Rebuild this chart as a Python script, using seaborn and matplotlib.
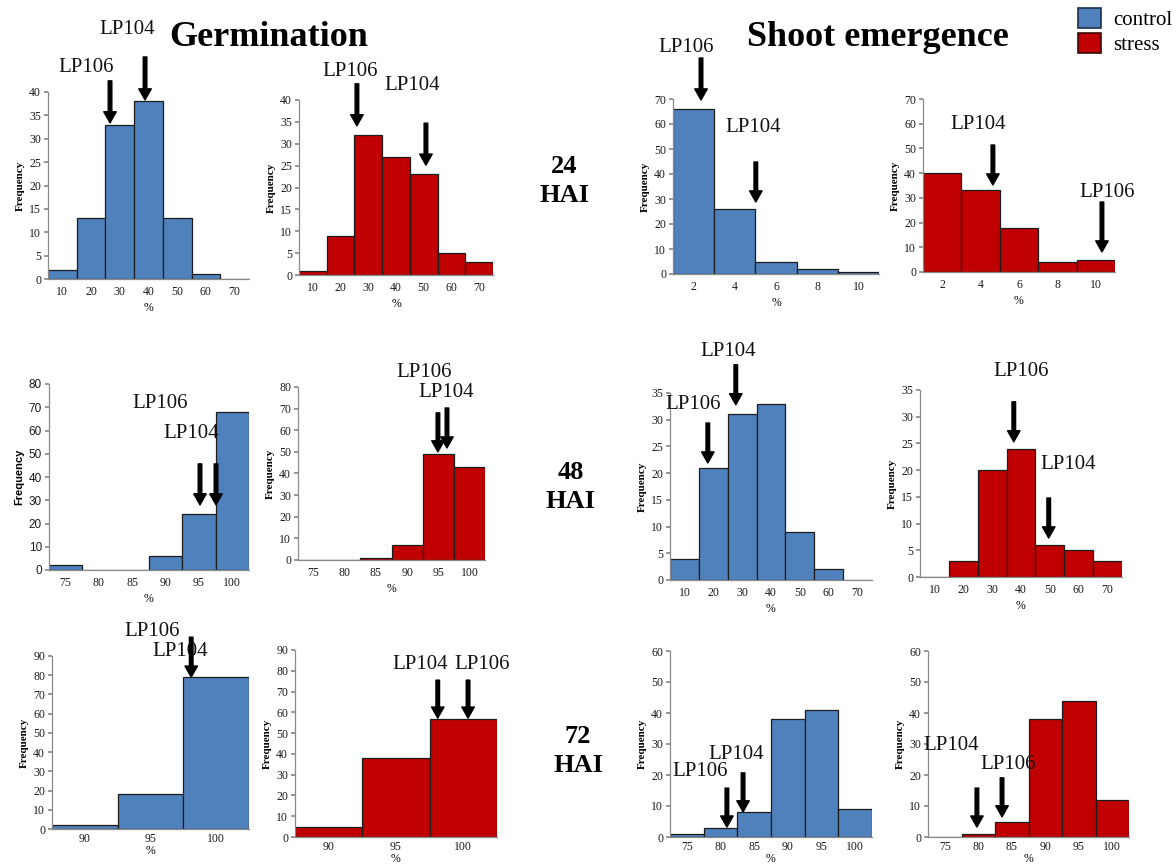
import numpy as np
import pandas as pd
import seaborn as sns
import matplotlib
matplotlib.use("Agg")
import matplotlib.pyplot as plt
from matplotlib.patches import Patch
from matplotlib.ticker import MultipleLocator, FixedLocator

# ---------------- data ----------------
bins_germ_early = ["10", "20", "30", "40", "50", "60", "70"]
bins_germ_48 = ["75", "80", "85", "90", "95", "100"]
bins_germ_72 = ["90", "95", "100"]
bins_shoot_24 = ["2", "4", "6", "8", "10"]
bins_shoot_48 = ["10", "20", "30", "40", "50", "60", "70"]
bins_shoot_72 = ["75", "80", "85", "90", "95", "100"]

germ_control_24 = [2, 13, 33, 38, 13, 1, 0]
germ_stress_24 = [1, 9, 32, 27, 23, 5, 3]
shoot_control_24 = [66, 26, 5, 2, 1]
shoot_stress_24 = [40, 33, 18, 4, 5]

germ_control_48 = [2, 0, 0, 6, 24, 68]
germ_stress_48 = [0, 0, 1, 7, 49, 43]
shoot_control_48 = [4, 21, 31, 33, 9, 2, 0]
shoot_stress_48 = [0, 3, 20, 24, 6, 5, 3]

germ_control_72 = [2, 18, 79]
germ_stress_72 = [5, 38, 57]
shoot_control_72 = [1, 3, 8, 38, 41, 9]
shoot_stress_72 = [0, 1, 5, 38, 44, 12]

y_max = [40, 40, 70, 70, 80, 80, 35, 35, 90, 90, 60, 60]
y_step = [5, 5, 10, 10, 10, 10, 5, 5, 10, 10, 10, 10]

CONTROL = "#4F81BD"
STRESS = "#C00000"

W, H = 1176, 867
sns.set_theme(style="white")
plt.rcParams["font.family"] = ["Liberation Serif", "DejaVu Serif"]
plt.rcParams["text.color"] = "black"
plt.rcParams["axes.labelcolor"] = "black"

fig = plt.figure(figsize=(W / 100, H / 100), dpi=100)
fig.patch.set_facecolor("white")


def px_rect(l, t, r, b):
    return [l / W, 1 - b / H, (r - l) / W, (b - t) / H]


panels = [
    # (rect px, bins, values, color)
    ((48, 92, 249, 279), bins_germ_early, germ_control_24, CONTROL),
    ((299, 100, 493, 275), bins_germ_early, germ_stress_24, STRESS),
    ((673, 99, 879, 274), bins_shoot_24, shoot_control_24, CONTROL),
    ((923, 99, 1115, 272), bins_shoot_24, shoot_stress_24, STRESS),
    ((49, 384, 249, 570), bins_germ_48, germ_control_48, CONTROL),
    ((298, 387, 485, 560), bins_germ_48, germ_stress_48, STRESS),
    ((670, 393, 872, 580), bins_shoot_48, shoot_control_48, CONTROL),
    ((920, 390, 1122, 577), bins_shoot_48, shoot_stress_48, STRESS),
    ((52, 656, 249, 829), bins_germ_72, germ_control_72, CONTROL),
    ((295, 650, 497, 837), bins_germ_72, germ_stress_72, STRESS),
    ((670, 651, 872, 837), bins_shoot_72, shoot_control_72, CONTROL),
    ((928, 651, 1129, 837), bins_shoot_72, shoot_stress_72, STRESS),
]

# annotations: arrows (x, tip_y, length_px) and labels (text, x, y) in data units
arrows = [
    [(1.66, 33.4, 42), (2.88, 38.3, 43)],
    [(1.59, 34.1, 42), (4.08, 25.1, 42)],
    [(0.18, 69.6, 42), (1.51, 28.8, 40)],
    [(1.32, 35.2, 40), (4.16, 8.1, 50)],
    [(4.03, 28.0, 41), (4.51, 28.0, 41)],
    [(3.99, 50.0, 39), (4.28, 51.8, 40)],
    [(1.78, 32.8, 40), (0.81, 21.9, 40)],
    [(2.75, 25.3, 40), (3.96, 7.3, 40)],
    [(1.62, 79.0, 40)],
    [(1.62, 57.2, 38), (2.07, 57.2, 38)],
    [(1.19, 3.2, 39), (1.67, 8.1, 39)],
    [(0.96, 3.2, 39), (1.71, 6.5, 39)],
]
labels = [
    [("LP106", 0.82, 45.3), ("LP104", 2.25, 53.3)],
    [("LP106", 1.34, 46.4), ("LP104", 3.58, 43.2)],
    [("LP106", -0.18, 90.4), ("LP104", 1.44, 58.8)],
    [("LP104", 0.93, 59.5), ("LP106", 4.29, 32.0)],
    [("LP106", 2.83, 71.4), ("LP104", 3.76, 58.5)],
    [("LP106", 3.54, 86.6), ("LP104", 4.24, 77.3)],
    [("LP104", 1.51, 42.7), ("LP106", 0.30, 32.8)],
    [("LP106", 2.99, 38.4), ("LP104", 4.62, 21.0)],
    [("LP106", 1.02, 103.0), ("LP104", 1.45, 92.6)],
    [("LP104", 1.36, 83.2), ("LP106", 2.28, 83.2)],
    [("LP106", 0.39, 21.0), ("LP104", 1.46, 26.5)],
    [("LP104", 0.19, 29.4), ("LP106", 1.89, 23.5)],
]

SPINE = "#8a8a8a"

for i, (rect, bins, vals, col) in enumerate(panels):
    ax = fig.add_axes(px_rect(*rect))
    df = pd.DataFrame({"bin": bins, "freq": vals})
    sns.barplot(data=df, x="bin", y="freq", order=bins, color=col, saturation=1,
                width=1.0, edgecolor="#1c1c1c", linewidth=0.9, ax=ax)
    n = len(bins)
    bottom_row = i >= 8
    ax.set_xlim(-0.5, n - 0.5)
    ax.set_ylim(0, y_max[i])
    ax.yaxis.set_major_locator(MultipleLocator(y_step[i]))
    ax.xaxis.set_minor_locator(FixedLocator(np.arange(-0.5, n, 1.0)))
    for s in ["top", "right"]:
        ax.spines[s].set_visible(False)
    for s in ["left", "bottom"]:
        ax.spines[s].set_color(SPINE)
        ax.spines[s].set_linewidth(0.9)
    ax.tick_params(axis="x", which="major", length=0, labelsize=8.5,
                   pad=3 if bottom_row else 5, colors="#1a1a1a")
    ax.tick_params(axis="x", which="minor", length=3, color=SPINE, direction="out")
    ax.tick_params(axis="y", length=3, color=SPINE, direction="out", labelsize=8.5,
                   pad=2, labelcolor="#1a1a1a", left=True)
    ax.set_xlabel("%", fontsize=8.5, labelpad=0 if bottom_row else 3)
    ax.set_ylabel("Frequency", fontsize=8, fontweight="bold", labelpad=3)
    if i == 4:
        for t in ax.get_yticklabels():
            t.set_family("Liberation Sans")
        ax.yaxis.label.set_family("Liberation Sans")
    ax.grid(False)
    ax.set_facecolor("none")

    for (x, ty, L) in arrows[i]:
        ax.annotate("", xy=(x, ty), xytext=(0, L * 72 / 100), textcoords="offset points",
                    arrowprops=dict(width=2.6, headwidth=9, headlength=8,
                                    facecolor="black", edgecolor="black"),
                    annotation_clip=False)
    for (txt, x, y) in labels[i]:
        ax.text(x, y, txt, ha="center", va="center", fontsize=15, clip_on=False,
                color="#111111")


def ftext(x, y, s, **kw):
    fig.text(x / W, 1 - y / H, s, **kw)


ftext(269, 38, "Germination", ha="center", va="center", fontsize=26, fontweight="bold")
ftext(878, 38, "Shoot emergence", ha="center", va="center", fontsize=26, fontweight="bold")
for (x, y, lab) in [(564, 181, "24\nHAI"), (571, 487, "48\nHAI"), (578, 751, "72\nHAI")]:
    ftext(x, y, lab, ha="center", va="center", fontsize=19, fontweight="bold",
          linespacing=1.3)

handles = [Patch(facecolor=CONTROL, edgecolor="#1c2f4a", linewidth=1.2),
           Patch(facecolor=STRESS, edgecolor="#3a0a0a", linewidth=1.2)]
fig.legend(handles, ["control", "stress"], loc="upper left",
           bbox_to_anchor=(1078 / W, 1 - 8 / H), frameon=False, fontsize=15,
           handlelength=1.1, handleheight=1.1, handletextpad=0.6,
           labelspacing=0.15, borderpad=0, borderaxespad=0)

fig.savefig("out.png", dpi=100, facecolor="white")
